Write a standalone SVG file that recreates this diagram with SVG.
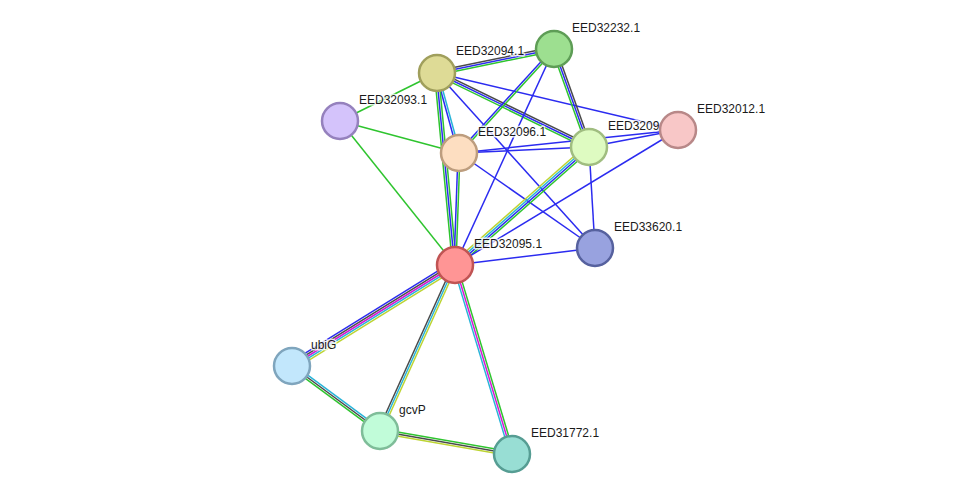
<svg xmlns="http://www.w3.org/2000/svg" width="976" height="500" viewBox="0 0 976 500">
<style>
.e{fill:none;stroke-width:1.5}
.b{stroke:#2b2bf0}.g{stroke:#2ec42e}.k{stroke:#4a4a4a}.c{stroke:#28b4d8}.m{stroke:#d41ad4}.y{stroke:#bcd432}
.n{stroke-width:2.5}
text{font-family:"Liberation Sans",Arial,sans-serif;font-size:12px;fill:#1a1a1a;stroke:#fff;stroke-width:3;stroke-opacity:0.8;paint-order:stroke;stroke-linejoin:round}
</style>
<rect width="976" height="500" fill="#fff"/>
<g id="edges">
<!-- 94-232 -->
<line class="e k" x1="436.6" y1="71" x2="553.6" y2="47"/>
<line class="e b" x1="437" y1="73" x2="554" y2="49"/>
<line class="e g" x1="437.4" y1="75" x2="554.4" y2="51"/>
<!-- 94-93 -->
<line class="e g" x1="437" y1="73" x2="340" y2="121"/>
<!-- 94-96 -->
<line class="e b" x1="436" y1="73.3" x2="458" y2="153.3"/>
<line class="e c" x1="438" y1="72.7" x2="460" y2="152.7"/>
<!-- 94-95 -->
<line class="e g" x1="434.5" y1="73.2" x2="452.5" y2="265.2"/>
<line class="e b" x1="436.5" y1="73" x2="454.5" y2="265"/>
<line class="e g" x1="438.5" y1="72.8" x2="456.5" y2="264.8"/>
<!-- 94-97 -->
<line class="e k" x1="437.9" y1="71.2" x2="589.9" y2="145.2"/>
<line class="e b" x1="437" y1="73" x2="589" y2="147"/>
<line class="e g" x1="436.1" y1="74.8" x2="588.1" y2="148.8"/>
<!-- 94-12, 94-620 -->
<line class="e b" x1="437" y1="73" x2="678" y2="130"/>
<line class="e b" x1="437" y1="73" x2="595" y2="248"/>
<!-- 232-96 -->
<line class="e b" x1="553.3" y1="48.3" x2="458.3" y2="152.3"/>
<line class="e g" x1="554.7" y1="49.7" x2="459.7" y2="153.7"/>
<!-- 232-95 -->
<line class="e b" x1="554" y1="49" x2="455" y2="265"/>
<!-- 232-97 -->
<line class="e g" x1="552.1" y1="49.7" x2="587.1" y2="147.7"/>
<line class="e b" x1="554" y1="49" x2="589" y2="147"/>
<line class="e k" x1="555.9" y1="48.3" x2="590.9" y2="146.3"/>
<!-- 93-96, 93-95 -->
<line class="e g" x1="340" y1="121" x2="459" y2="153"/>
<line class="e g" x1="340" y1="121" x2="455" y2="265"/>
<!-- 96-95 -->
<line class="e b" x1="458" y1="153" x2="454" y2="265"/>
<line class="e g" x1="460" y1="153" x2="456" y2="265"/>
<!-- 96-97, 96-12, 96-620 -->
<line class="e b" x1="459" y1="153" x2="589" y2="147"/>
<line class="e b" x1="459" y1="153" x2="678" y2="130"/>
<line class="e b" x1="459" y1="153" x2="595" y2="248"/>
<!-- 97-12, 97-620 -->
<line class="e b" x1="589" y1="147" x2="678" y2="130"/>
<line class="e b" x1="589" y1="147" x2="595" y2="248"/>
<!-- 97-95 -->
<line class="e y" x1="587" y1="144.8" x2="453" y2="262.8"/>
<line class="e c" x1="588.3" y1="146.3" x2="454.3" y2="264.3"/>
<line class="e b" x1="589.7" y1="147.8" x2="455.7" y2="265.8"/>
<line class="e g" x1="591" y1="149.3" x2="457" y2="267.3"/>
<!-- 12-95, 620-95 -->
<line class="e b" x1="678" y1="130" x2="455" y2="265"/>
<line class="e b" x1="595" y1="248" x2="455" y2="265"/>
<!-- 95-ubiG -->
<line class="e b" x1="452.9" y1="261.6" x2="289.9" y2="362.6"/>
<line class="e k" x1="454" y1="263.3" x2="291" y2="364.3"/>
<line class="e m" x1="455" y1="265" x2="292" y2="366"/>
<line class="e c" x1="456" y1="266.7" x2="293" y2="367.7"/>
<line class="e y" x1="457.1" y1="268.4" x2="294.1" y2="369.4"/>
<!-- 95-gcvP -->
<line class="e k" x1="453.2" y1="264.2" x2="378.2" y2="430.2"/>
<line class="e c" x1="455" y1="265" x2="380" y2="431"/>
<line class="e y" x1="456.8" y1="265.8" x2="381.8" y2="431.8"/>
<!-- 95-31772 -->
<line class="e c" x1="453.1" y1="265.6" x2="510.1" y2="454.6"/>
<line class="e m" x1="455" y1="265" x2="512" y2="454"/>
<line class="e g" x1="456.9" y1="264.4" x2="513.9" y2="453.4"/>
<!-- ubiG-gcvP -->
<line class="e g" x1="290.8" y1="367.6" x2="378.8" y2="432.6"/>
<line class="e k" x1="292" y1="366" x2="380" y2="431"/>
<line class="e c" x1="293.2" y1="364.4" x2="381.2" y2="429.4"/>
<!-- gcvP-31772 -->
<line class="e g" x1="380.3" y1="429" x2="512.3" y2="452"/>
<line class="e k" x1="380" y1="431" x2="512" y2="454"/>
<line class="e y" x1="379.7" y1="433" x2="511.7" y2="456"/>
</g>
<g id="EED32094.1"><circle class="n" cx="437" cy="73" r="18" fill="#dedb96" stroke="#a09f5c"/><text x="456" y="55">EED32094.1</text></g>
<g id="EED32232.1"><circle class="n" cx="554" cy="49" r="18" fill="#9ddf90" stroke="#5e9d56"/><text x="572" y="32">EED32232.1</text></g>
<g id="EED32093.1"><circle class="n" cx="340" cy="121" r="18" fill="#d4c3fb" stroke="#9581bd"/><text x="359" y="104">EED32093.1</text></g>
<g id="EED32096.1"><circle class="n" cx="459" cy="153" r="18" fill="#fddec1" stroke="#bd9d7e"/><text x="478" y="136">EED32096.1</text></g>
<g id="EED3209"><text x="608" y="130">EED3209</text><circle class="n" cx="589" cy="147" r="18" fill="#defbc1" stroke="#a0bd80"/></g>
<g id="EED32012.1"><circle class="n" cx="678" cy="130" r="18" fill="#f8c7c7" stroke="#b88888"/><text x="697" y="113">EED32012.1</text></g>
<g id="EED33620.1"><circle class="n" cx="595" cy="248" r="18" fill="#98a2df" stroke="#56619e"/><text x="614" y="231">EED33620.1</text></g>
<g id="EED32095.1"><circle class="n" cx="455" cy="265" r="18" fill="#ff9595" stroke="#c05454"/><text x="474" y="248">EED32095.1</text></g>
<g id="ubiG"><circle class="n" cx="292" cy="366" r="18" fill="#c2e7fc" stroke="#7fa5bd"/><text x="311" y="349">ubiG</text></g>
<g id="gcvP"><circle class="n" cx="380" cy="431" r="18" fill="#c1fcd9" stroke="#7fbd99"/><text x="399" y="414">gcvP</text></g>
<g id="EED31772.1"><circle class="n" cx="512" cy="454" r="18" fill="#98ded4" stroke="#569d93"/><text x="531" y="437">EED31772.1</text></g>
</svg>
